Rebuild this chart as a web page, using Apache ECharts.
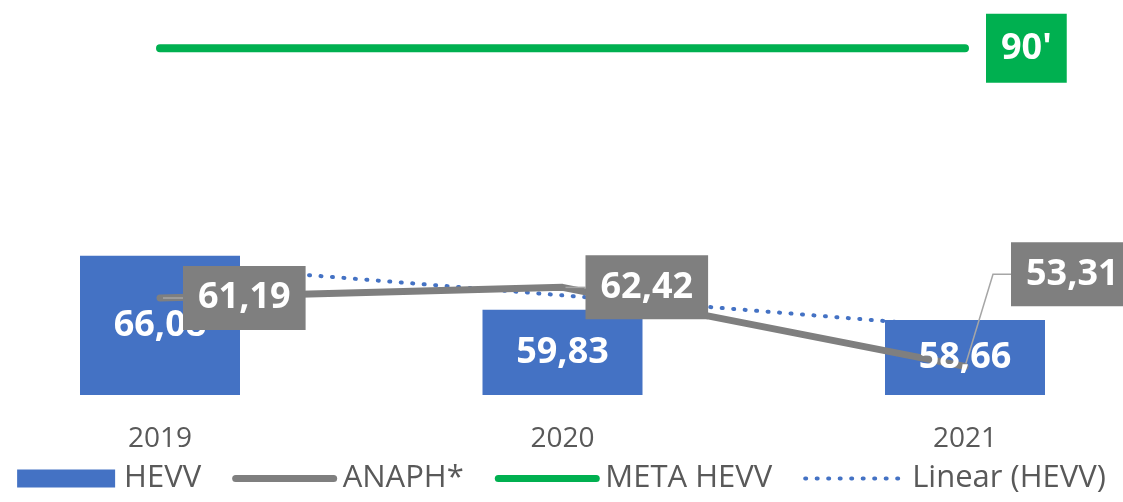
<!DOCTYPE html>
<html>
<head>
<meta charset="utf-8">
<script src="https://cdn.jsdelivr.net/npm/echarts@6/dist/echarts.min.js"></script>
<style>
  html, body { margin: 0; padding: 0; background: #ffffff; }
  #chart { width: 1123px; height: 502px; }
</style>
</head>
<body>
<div id="chart"></div>
<script>
// Years on the category axis
const years = ['2019', '2020', '2021'];
// HEVV (bars)
const hevv = [66.08, 59.83, 58.66];
// ANAPH* (grey line)
const anaph = [61.19, 62.42, 53.31];
// META HEVV target (green line)
const metaHevv = [90, 90, 90];
// Linear (HEVV) trend, read at each year
const trendHevv = [65.2, 61.5, 57.8];

const FONT = '"Open Sans", "Noto Sans", sans-serif';
const BLUE = '#4472c4';
const GREY = '#7f7f7f';
const GREEN = '#00b050';
const TEXT = '#595959';
const CLEAR = 'rgba(0,0,0,0)';
const DOTS = [1, 10.5];

const fmt = v => v.toFixed(2).replace('.', ',');

// Shared look of the white bold value labels
const valueLabel = {
  color: '#ffffff',
  fontSize: 36,
  fontWeight: 'bold',
  fontFamily: FONT
};

const chart = echarts.init(document.getElementById('chart'), null, { renderer: 'canvas' });

chart.setOption({
  animation: false,
  backgroundColor: '#ffffff',
  textStyle: { fontFamily: FONT },
  grid: { left: 160, right: 158, top: 5, bottom: 107, containLabel: false },
  xAxis: {
    type: 'category',
    data: years,
    boundaryGap: false,
    axisLine: { show: false },
    axisTick: { show: false },
    splitLine: { show: false },
    axisLabel: { color: TEXT, fontSize: 28, fontFamily: FONT, margin: 30 }
  },
  yAxis: {
    type: 'value',
    min: 50,
    max: 95,
    show: false,
    splitLine: { show: false }
  },
  legend: {
    bottom: 3,
    left: 'center',
    itemWidth: 98,
    itemHeight: 18,
    itemGap: 31,
    textStyle: { color: TEXT, fontSize: 31, fontFamily: FONT, padding: [0, 0, 0, 4] },
    data: [
      { name: 'HEVV', icon: 'rect' },
      { name: 'ANAPH*', itemStyle: { opacity: 0 }, lineStyle: { width: 7, cap: 'round' } },
      { name: 'META HEVV', itemStyle: { opacity: 0 }, lineStyle: { width: 7, cap: 'round' } },
      { name: 'Linear (HEVV)', itemStyle: { opacity: 0 }, lineStyle: { width: 4, type: DOTS, cap: 'round' } }
    ]
  },
  series: [
    {
      name: 'Linear (HEVV)',
      type: 'line',
      z: 1,
      data: trendHevv,
      symbol: 'none',
      silent: true,
      lineStyle: { color: BLUE, width: 4, type: DOTS, cap: 'round' },
      itemStyle: { color: BLUE }
    },
    {
      name: 'HEVV',
      type: 'bar',
      z: 2,
      data: hevv,
      barWidth: 160,
      barGap: '-100%',
      itemStyle: { color: BLUE }
    },
    {
      name: 'META HEVV',
      type: 'line',
      z: 3,
      data: metaHevv,
      symbol: 'none',
      lineStyle: { color: GREEN, width: 8, cap: 'round' },
      itemStyle: { color: GREEN },
      endLabel: Object.assign({}, valueLabel, {
        show: true,
        distance: 21,
        formatter: p => p.value + "'",
        backgroundColor: GREEN,
        padding: [16, 15, 15, 15],
        lineHeight: 38
      })
    },
    {
      name: 'ANAPH*',
      type: 'line',
      z: 3,
      data: anaph,
      symbol: 'none',
      lineStyle: { color: GREY, width: 7, cap: 'round', join: 'round' },
      itemStyle: { color: GREY }
    },
    // HEVV values, drawn above the grey line
    {
      name: 'HEVV values',
      type: 'bar',
      z: 4,
      data: hevv,
      barWidth: 160,
      barGap: '-100%',
      silent: true,
      itemStyle: { color: CLEAR },
      label: Object.assign({}, valueLabel, {
        show: true,
        position: 'inside',
        formatter: p => fmt(p.value)
      })
    },
    // ANAPH* value boxes, drawn on top of everything
    {
      name: 'ANAPH* values',
      type: 'line',
      z: 5,
      data: anaph,
      symbol: 'circle',
      symbolSize: 6,
      showSymbol: true,
      silent: true,
      lineStyle: { color: CLEAR, width: 0 },
      itemStyle: { color: CLEAR },
      emphasis: { disabled: true },
      label: Object.assign({}, valueLabel, {
        show: true,
        opacity: 1,
        position: 'right',
        distance: 20,
        backgroundColor: GREY,
        padding: [13, 15, 13, 15],
        lineHeight: 38,
        formatter: p => fmt(p.value)
      }),
      labelLine: {
        show: true,
        length2: 18,
        lineStyle: { color: '#a6a6a6', width: 1.5, opacity: 1 }
      },
      labelLayout: p => (p.dataIndex === 2 ? { dx: 23, dy: -92 } : {})
    }
  ]
});
</script>
</body>
</html>
